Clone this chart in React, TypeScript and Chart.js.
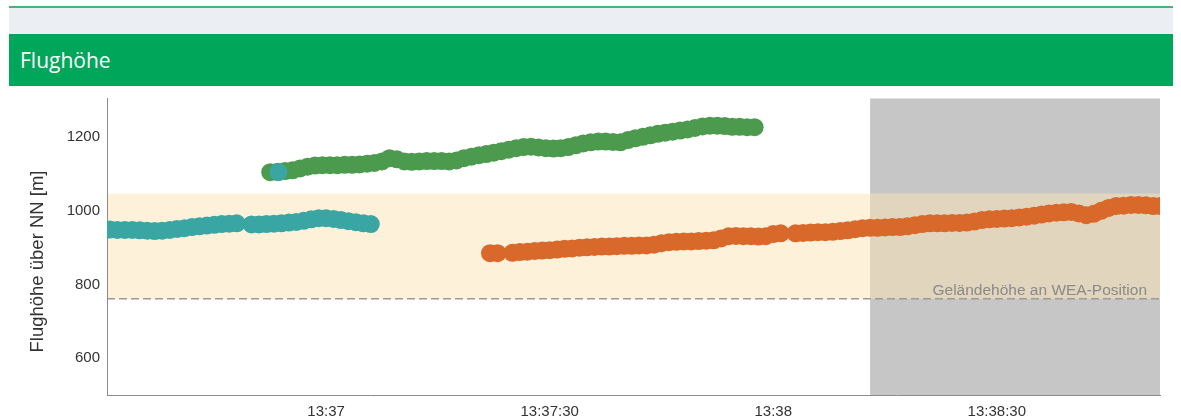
import React, { useEffect, useRef } from 'react';
import { Chart, registerables } from 'chart.js';

Chart.register(...registerables);

// ---- data ----
// time values are seconds after 13:36:00
const baseHour = 13;
const baseMinute = 36;
const xTicks = [60, 90, 120, 150];
const yTicks = [600, 800, 1000, 1200];
const xMin = 30.6;
const xMax = 171.9;
const yMin = 500;
const yMax = 1305;

const tealStart = 30;
const tealValues: (number | null)[] = [
  949, 949, 948, 948, 948, 947, 946, 945, 946, 948, 951, 953, 956, 958, 960, 962, 964, 965, 966,
  null,
  963, 963, 964, 965, 966, 968, 970, 973, 977, 980, 980, 978, 975, 972, 969, 966, 964,
];

const markerTimes = [53.6];
const markerValues = [1105];

const greenStart = 52.5;
const greenValues: (number | null)[] = [
  1105, 1106, 1108, 1110, 1115, 1120, 1123, 1124, 1124, 1124, 1125, 1125, 1126, 1128, 1130, 1134,
  1143, 1140, 1134, 1133, 1134, 1135, 1135, 1135, 1134, 1137, 1143, 1147, 1151, 1154, 1158, 1162,
  1166, 1170, 1173, 1174, 1172, 1170, 1169, 1170, 1173, 1178, 1183, 1186, 1188, 1188, 1187, 1186,
  1192, 1197, 1201, 1205, 1209, 1212, 1215, 1218, 1221, 1225, 1229, 1231, 1231, 1230, 1228, 1228,
  1227, 1227,
];

const orangeStart = 82;
const orangeValues: (number | null)[] = [
  885, 885, null, 886, 888, 889, 891, 892, 893, 895, 897, 898, 900, 901, 902, 903, 903, 904, 905,
  905, 906, 906, 908, 912, 915, 916, 917, 917, 918, 919, 920, 925, 931, 932, 931, 931, 930, 931,
  937, 939, null, 939, 940, 941, 942, 942, 943, 945, 947, 950, 953, 954, 954, 955, 956, 956, 958,
  961, 964, 966, 966, 966, 967, 967, 968, 971, 975, 977, 978, 979, 980, 982, 984, 987, 990, 993,
  995, 996, 997, 993, 988, 992, 1000, 1008, 1013, 1014, 1016, 1016, 1015, 1013, 1013,
];

const terrainHeight = 761;
const bandTop = 1047;
const shadedFrom = 133;
const terrainLabel = 'Geländehöhe an WEA-Position';
const yTitle = 'Flughöhe über NN [m]';

const tealColor = '#3AA6A4';
const greenColor = '#4C9A4E';
const orangeColor = '#D9682B';

const FONT = "'Liberation Sans', Arial, sans-serif";

function toPoints(start: number, values: (number | null)[]) {
  return values.map((v, i) => ({ x: start + i, y: v === null ? NaN : v }));
}

function formatTime(t: number) {
  const total = baseMinute * 60 + t;
  const m = Math.floor(total / 60);
  const s = Math.round(total % 60);
  const mm = String(m).padStart(2, '0');
  return s === 0 ? `${baseHour}:${mm}` : `${baseHour}:${mm}:${String(s).padStart(2, '0')}`;
}

const zonesPlugin = {
  id: 'zones',
  beforeDraw(chart: any) {
    const { ctx, chartArea: a, scales } = chart;
    const x = scales.x;
    const y = scales.y;
    ctx.save();
    const gx = x.getPixelForValue(shadedFrom);
    ctx.fillStyle = '#C6C6C6';
    ctx.fillRect(gx, a.top, a.right - gx, a.bottom - a.top);
    const bt = y.getPixelForValue(bandTop);
    const bb = y.getPixelForValue(terrainHeight);
    ctx.fillStyle = 'rgba(251,227,183,0.51)';
    ctx.fillRect(a.left, bt, a.right - a.left, bb - bt);
    ctx.setLineDash([8, 4]);
    ctx.strokeStyle = '#9a9a9a';
    ctx.lineWidth = 1.5;
    ctx.beginPath();
    ctx.moveTo(a.left, bb);
    ctx.lineTo(a.right, bb);
    ctx.stroke();
    ctx.setLineDash([]);
    ctx.font = `15.5px ${FONT}`;
    ctx.fillStyle = '#8a8a8a';
    ctx.textAlign = 'right';
    ctx.textBaseline = 'alphabetic';
    ctx.fillText(terrainLabel, a.right - 13, bb - 4);
    // y axis title
    ctx.translate(34.3, 175.5);
    ctx.rotate(-Math.PI / 2);
    ctx.font = `18.5px ${FONT}`;
    ctx.fillStyle = '#333';
    ctx.textAlign = 'center';
    ctx.fillText(yTitle, 0, 0);
    ctx.restore();
  },
};

export default function App() {
  const ref = useRef<HTMLCanvasElement>(null);
  useEffect(() => {
    const point = { radius: 9, hoverRadius: 9, borderWidth: 0 };
    const chart = new Chart(ref.current as HTMLCanvasElement, {
      type: 'scatter',
      data: {
        datasets: [
          {
            data: markerTimes.map((t, i) => ({ x: t, y: markerValues[i] })),
            backgroundColor: tealColor,
            order: 0,
            ...point,
          },
          { data: toPoints(greenStart, greenValues), backgroundColor: greenColor, order: 1, ...point },
          { data: toPoints(tealStart, tealValues), backgroundColor: tealColor, order: 2, ...point },
          { data: toPoints(orangeStart, orangeValues), backgroundColor: orangeColor, order: 3, ...point },
        ] as any,
      },
      options: {
        animation: false,
        responsive: false,
        maintainAspectRatio: false,
        clip: 0 as any,
        layout: { padding: { top: 12.5, right: 21, left: 0, bottom: 0 } },
        plugins: { legend: { display: false }, tooltip: { enabled: false } },
        scales: {
          x: {
            type: 'linear',
            min: xMin,
            max: xMax,
            grid: { display: false, drawTicks: false },
            border: { display: true, color: '#8c8c8c', width: 1 },
            ticks: {
              padding: 8,
              color: '#333',
              font: { size: 15, family: FONT },
              maxRotation: 0,
              autoSkip: false,
              callback: (v: any) => formatTime(Number(v)),
            },
            afterBuildTicks: (s: any) => {
              s.ticks = xTicks.map((v) => ({ value: v }));
            },
            afterFit: (s: any) => {
              s.height = 25;
              s.paddingLeft = 0;
              s.paddingRight = 0;
            },
          },
          y: {
            type: 'linear',
            min: yMin,
            max: yMax,
            grid: { display: false, drawTicks: false },
            border: { display: true, color: '#8c8c8c', width: 1 },
            ticks: {
              padding: 7,
              color: '#333',
              font: { size: 15, family: FONT },
              callback: (v: any) => String(v),
            },
            afterBuildTicks: (s: any) => {
              s.ticks = yTicks.map((v) => ({ value: v }));
            },
            afterFit: (s: any) => {
              s.width = 98;
              s.paddingTop = 0;
              s.paddingBottom = 0;
            },
          },
        },
      } as any,
      plugins: [zonesPlugin],
    });
    return () => chart.destroy();
  }, []);

  return (
    <div
      style={{
        position: 'absolute',
        left: 0,
        top: 0,
        width: 1181,
        height: 420,
        background: '#fff',
        overflow: 'hidden',
      }}
    >
      <div style={{ position: 'absolute', left: 9, right: 8, top: 6, height: 1.5, background: '#4DB07C' }} />
      <div style={{ position: 'absolute', left: 9, right: 8, top: 7.5, height: 26, background: '#EBEEF2' }} />
      <div
        style={{
          position: 'absolute',
          left: 9,
          right: 8,
          top: 33.5,
          height: 52,
          background: '#00A65A',
          color: '#fff',
          display: 'flex',
          alignItems: 'center',
          paddingLeft: 11,
          fontFamily: "'Open Sans', sans-serif",
          fontSize: 21,
        }}
      >
        Flughöhe
      </div>
      <canvas
        ref={ref}
        width={1172}
        height={334}
        style={{ position: 'absolute', left: 9, top: 86, width: 1172, height: 334, display: 'block' }}
      />
    </div>
  );
}
